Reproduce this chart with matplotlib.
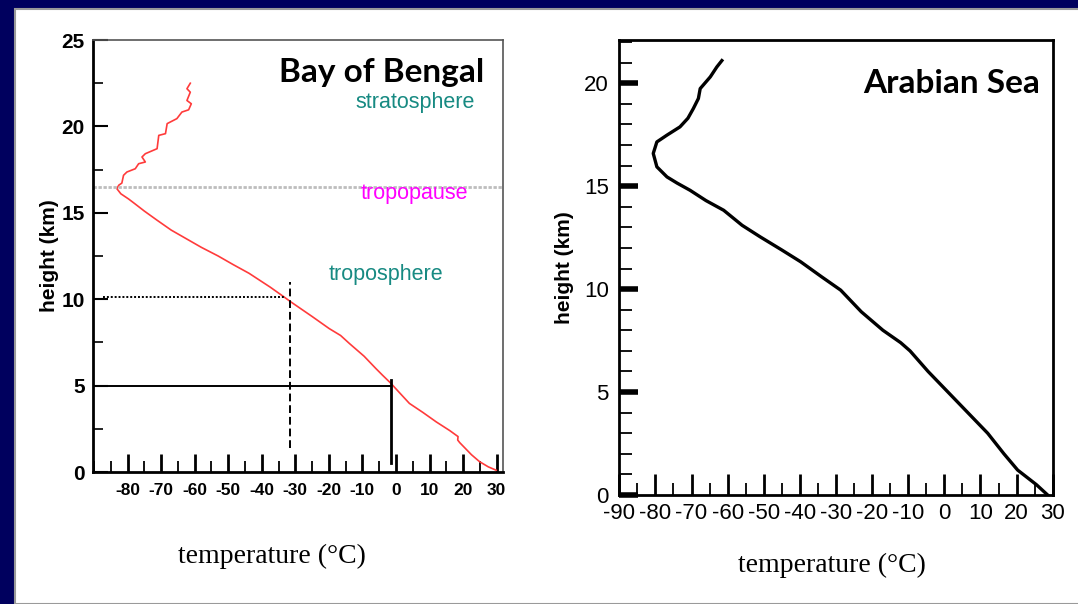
import matplotlib.pyplot as plt
from matplotlib.patches import Rectangle
from matplotlib.ticker import MultipleLocator

# Bay of Bengal sounding (red)
bob_temp = [29.9, 27.5, 24.9, 22.5, 20.5, 19.0, 18.4, 18.5, 16.0, 12.0, 8.0, 4.0,
            1.0, -1.5, -4.0, -6.0, -9.5, -13.9, -16.5, -19.9, -25.0, -28.0, -31.3,
            -33.5, -37.5, -43.8, -48.5, -53.0, -58.0, -62.5, -67.0, -71.2, -75.0,
            -78.0, -79.7, -82.0, -83.2, -82.6, -81.7, -81.2, -80.2, -77.7, -76.7,
            -74.7, -75.7, -74.7, -71.2, -70.7, -68.7, -68.2, -65.3, -63.8, -61.8,
            -61.0, -62.3, -61.3, -62.3, -61.3]
bob_height = [0.1, 0.3, 0.6, 1.0, 1.4, 1.7, 1.85, 2.05, 2.4, 2.9, 3.45, 3.97,
              4.6, 5.13, 5.6, 5.99, 6.7, 7.44, 7.9, 8.3, 9.0, 9.4, 9.84,
              10.15, 10.7, 11.5, 12.0, 12.5, 13.0, 13.5, 14.0, 14.57, 15.1,
              15.55, 15.8, 16.1, 16.4, 16.6, 16.72, 17.17, 17.36, 17.55, 17.84,
              17.94, 18.23, 18.42, 18.71, 19.48, 19.58, 20.16, 20.45, 20.83, 20.96,
              21.31, 21.5, 21.98, 22.18, 22.5]

# Arabian Sea sounding (black)
as_temp = [28.6, 25.5, 20.3, 16.5, 12.0, 6.5, 1.0, -4.5, -9.5, -12.1, -17.0, -23.0,
           -28.7, -34.0, -39.8, -45.0, -51.0, -56.0, -61.1, -66.0, -70.4, -74.0,
           -76.8, -79.6, -80.6, -79.6, -76.8, -73.2, -71.0, -69.5, -68.1, -67.6,
           -64.8, -63.0, -61.6]
as_height = [0.0, 0.5, 1.21, 2.0, 3.0, 4.0, 5.0, 6.0, 7.0, 7.4, 8.0, 8.9,
             9.95, 10.6, 11.33, 11.9, 12.54, 13.1, 13.83, 14.3, 14.8, 15.15,
             15.45, 15.94, 16.59, 17.15, 17.48, 17.88, 18.3, 18.77, 19.26, 19.74,
             20.31, 20.79, 21.1]

# guide lines on the Bay of Bengal panel
tropopause_km = 16.5
h10_km, h10_temp = 10.15, -33.0
h5_km, h5_temp = 4.95, -1.5
dashed_temp = -31.6

plt.rcParams['font.family'] = ['Liberation Sans', 'DejaVu Sans']
plt.rcParams['axes.unicode_minus'] = False

fig = plt.figure(figsize=(10.78, 6.04), dpi=100)
fig.patch.set_facecolor('#00005e')
fig.patches.append(Rectangle((15 / 1078, 0), 1, 1 - 9 / 604, transform=fig.transFigure,
                             facecolor='white', edgecolor='#9a9a9a', linewidth=1.5,
                             zorder=-10))

serif = ['Liberation Serif', 'DejaVu Serif']
narrow = ['Liberation Sans Narrow', 'Liberation Sans']
title_font = ['Lato', 'DejaVu Sans']

# ---- left: Bay of Bengal ----
ax1 = fig.add_axes([93 / 1078, 1 - 472 / 604, 410 / 1078, 432 / 604])
ax1.patch.set_alpha(0)
ax1.plot(bob_temp, bob_height, color='#ff3b3b', lw=1.2)
ax1.axhline(tropopause_km, color='#bdbdbd', lw=2, ls=(0, (1.2, 0.6)))
ax1.plot([-87.4, h10_temp], [h10_km, h10_km], color='black', lw=1.4, ls=(0, (1, 1)))
ax1.plot([dashed_temp, dashed_temp], [1.4, 11.0], color='black', lw=1.4, ls=(0, (4, 2)))
ax1.plot([-86.5, h5_temp], [h5_km, h5_km], color='black', lw=1.4)
ax1.plot([h5_temp, h5_temp], [0.5, 5.35], color='black', lw=2)

ax1.set_xlim(-90.3, 31.9)
ax1.set_ylim(0, 25)
ax1.xaxis.set_major_locator(MultipleLocator(10))
ax1.xaxis.set_minor_locator(MultipleLocator(5))
ax1.yaxis.set_major_locator(MultipleLocator(5))
ax1.yaxis.set_minor_locator(MultipleLocator(2.5))
ax1.set_xticks(range(-80, 31, 10))
ax1.tick_params(axis='x', which='major', direction='in', length=13, width=2, pad=8)
ax1.tick_params(axis='x', which='minor', direction='in', length=8, width=1.3)
ax1.tick_params(axis='y', which='major', direction='in', length=11, width=1.5, pad=6)
ax1.tick_params(axis='y', which='minor', direction='in', length=7, width=1.2)
for lab in ax1.get_xticklabels():
    lab.set_fontfamily(narrow)
    lab.set_fontweight('bold')
    lab.set_fontsize(12.5)
for lab in ax1.get_yticklabels():
    lab.set_fontweight('bold')
    lab.set_fontsize(15)
for side in ['left', 'bottom']:
    ax1.spines[side].set_linewidth(2)
for side in ['top', 'right']:
    ax1.spines[side].set_linewidth(1.2)
    ax1.spines[side].set_color('#555555')
ax1.set_ylabel('height (km)', fontsize=15, fontweight='bold')
ax1.yaxis.set_label_coords(-0.083, 0.5)
ax1.set_xlabel('temperature (\u00b0C)', fontsize=20, family=serif)
ax1.xaxis.set_label_coords(0.437, -0.166)

ax1.text(0.955, 0.925, 'Bay of Bengal', transform=ax1.transAxes, ha='right', va='center',
         fontsize=24, fontweight='bold', family=title_font)
ax1.text(0.785, 0.855, 'stratosphere', transform=ax1.transAxes, ha='center', va='center',
         fontsize=15.5, color='#178a82')
ax1.text(0.785, 0.645, 'tropopause', transform=ax1.transAxes, ha='center', va='center',
         fontsize=15.5, color='#ff00ff')
ax1.text(0.715, 0.458, 'troposphere', transform=ax1.transAxes, ha='center', va='center',
         fontsize=15.5, color='#178a82')

# ---- right: Arabian Sea ----
ax2 = fig.add_axes([619.3 / 1078, 1 - 495 / 604, 433.4 / 1078, 455 / 604])
ax2.patch.set_alpha(0)
ax2.plot(as_temp, as_height, color='black', lw=2.4)
ax2.set_xlim(-90, 30)
ax2.set_ylim(0, 22.1)
ax2.xaxis.set_major_locator(MultipleLocator(10))
ax2.xaxis.set_minor_locator(MultipleLocator(5))
ax2.yaxis.set_major_locator(MultipleLocator(5))
ax2.yaxis.set_minor_locator(MultipleLocator(1))
ax2.tick_params(axis='x', which='major', direction='in', length=15, width=2, pad=5.5,
                labelsize=16)
ax2.tick_params(axis='x', which='minor', direction='in', length=9, width=1.3)
ax2.tick_params(axis='y', which='major', direction='in', length=14, width=4, pad=7.5,
                labelsize=16)
ax2.tick_params(axis='y', which='minor', direction='in', length=9, width=1.3)
for side in ax2.spines:
    ax2.spines[side].set_linewidth(2)
ax2.set_ylabel('height (km)', fontsize=15, fontweight='bold')
ax2.yaxis.set_label_coords(-0.105, 0.5)
ax2.set_xlabel('temperature (\u00b0C)', fontsize=20, family=serif)
ax2.xaxis.set_label_coords(0.49, -0.128)

ax2.text(0.97, 0.905, 'Arabian Sea', transform=ax2.transAxes, ha='right', va='center',
         fontsize=24, fontweight='bold', family=title_font)

fig.savefig('out.png', dpi=100, facecolor=fig.get_facecolor())
